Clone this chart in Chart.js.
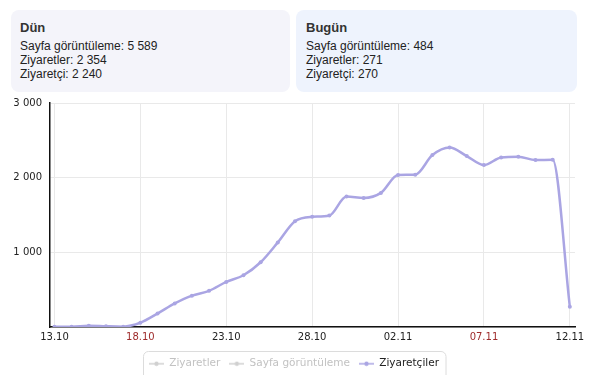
<!DOCTYPE html>
<html>
<head>
<meta charset="utf-8">
<script src="https://cdn.jsdelivr.net/npm/chart.js@4.4.1/dist/chart.umd.min.js"></script>
<style>
  html, body { margin: 0; padding: 0; width: 591px; height: 375px; overflow: hidden; background: #fff; }
  body { position: relative; font-family: "Liberation Sans", Arial, sans-serif; color: #222; }
  .panel { position: absolute; top: 10px; height: 82px; border-radius: 8px; box-sizing: border-box; padding: 10px 10px; }
  .panel h3 { margin: 0 0 3px 0; font-size: 13px; font-weight: bold; color: #333; line-height: 16px; }
  .panel div { font-size: 12px; line-height: 14px; }
  #dun { left: 11px; width: 279px; background: #f4f4fa; padding-left: 9px; }
  #bugun { left: 296px; width: 281px; background: #eef3fd; }
  #wrap { position: absolute; left: 0; top: 89px; width: 591px; height: 305px; }
</style>
</head>
<body>
<div class="panel" id="dun">
  <h3>Dün</h3>
  <div>Sayfa görüntüleme: 5 589</div>
  <div>Ziyaretler: 2 354</div>
  <div>Ziyaretçi: 2 240</div>
</div>
<div class="panel" id="bugun">
  <h3>Bugün</h3>
  <div>Sayfa görüntüleme: 484</div>
  <div>Ziyaretler: 271</div>
  <div>Ziyaretçi: 270</div>
</div>
<div id="wrap"><canvas id="visit_chart" width="591" height="305"></canvas></div>
<script>
var dates = ["13.10","14.10","15.10","16.10","17.10","18.10","19.10","20.10","21.10","22.10",
  "23.10","24.10","25.10","26.10","27.10","28.10","29.10","30.10","31.10","01.11",
  "02.11","03.11","04.11","05.11","06.11","07.11","08.11","09.11","10.11","11.11","12.11"];
var redTicks = ["18.10", "07.11"];

// ziyaretciler (visible line)
var visitors = [5, 5, 18, 10, 5, 57, 180, 315, 420, 484,
  604, 693, 867, 1133, 1417, 1476, 1493, 1747, 1729, 1796,
  2036, 2040, 2303, 2404, 2289, 2169, 2271, 2280, 2236, 2240, 270];
// hidden series: only yesterday / today are known (from the panels)
var visits = [];
visits[29] = 2354; visits[30] = 271;
var pageViews = [];
pageViews[29] = 5589; pageViews[30] = 484;

var yTicks = [1000, 2000, 3000];
var xTickIdx = [0, 5, 10, 15, 20, 25, 30];

var lineColor = "#aaa5e3";
var grayColor = "#c8c8cc";
var legendShift = 6.5;

function toPoints(arr){
  var out = [];
  for (var i = 0; i < dates.length; i++) {
    out.push({x: i, y: arr[i] === undefined ? null : arr[i]});
  }
  return out;
}

function swatch(color){
  var c = document.createElement("canvas");
  c.width = 15; c.height = 6;
  var ctx = c.getContext("2d");
  ctx.strokeStyle = color; ctx.lineWidth = 1.5;
  ctx.beginPath(); ctx.moveTo(0, 3); ctx.lineTo(15, 3); ctx.stroke();
  ctx.fillStyle = color;
  ctx.beginPath(); ctx.arc(7.5, 3, 2.2, 0, Math.PI*2); ctx.fill();
  return c;
}

function fmt(v){
  return String(v).replace(/\B(?=(\d{3})+(?!\d))/g, " ");
}

// move legend a bit right and draw the rounded frame round it
var legendBox = {
  id: "legendBox",
  afterLayout: function(chart){
    chart.legend.left += legendShift;
    chart.legend.right += legendShift;
  },
  afterDraw: function(chart){
    var items = chart.legend.legendHitBoxes;
    if (!items || !items.length) return;
    var last = items[items.length-1];
    var l = items[0].left + legendShift - 12.5, r = last.left + last.width + legendShift;
    var t = items[0].top - 8;
    var ctx = chart.ctx;
    ctx.save();
    ctx.strokeStyle = "#dcdcdc"; ctx.lineWidth = 1;
    ctx.beginPath();
    ctx.roundRect(Math.round(l) + 0.5, Math.round(t) + 0.5, r - l, 60, 5);
    ctx.stroke();
    ctx.restore();
  }
};

new Chart("visit_chart", {
  type: "line",
  data: {
    datasets: [{
      label: "Ziyaretler",
      data: toPoints(visits),
      hidden: true,
      borderColor: grayColor,
      backgroundColor: grayColor
    }, {
      label: "Sayfa görüntüleme",
      data: toPoints(pageViews),
      hidden: true,
      borderColor: grayColor,
      backgroundColor: grayColor
    }, {
      label: "Ziyaretçiler",
      data: toPoints(visitors),
      borderColor: lineColor,
      backgroundColor: lineColor,
      borderWidth: 2.5,
      pointRadius: 2,
      pointBorderWidth: 0,
      cubicInterpolationMode: "monotone"
    }]
  },
  plugins: [legendBox],
  options: {
    responsive: false,
    animation: false,
    layout: { padding: { left: 0, right: 16, top: 2, bottom: 15 } },
    plugins: {
      tooltip: { enabled: false },
      legend: {
        position: "bottom",
        labels: {
          usePointStyle: true,
          pointStyleWidth: 15,
          boxHeight: 6,
          padding: 9,
          font: { family: "DejaVu Sans", size: 10.5 },
          generateLabels: function(chart){
            return chart.data.datasets.map(function(ds, i){
              var vis = chart.isDatasetVisible(i);
              return {
                text: ds.label,
                fontColor: vis ? "#222" : "#c2c2c2",
                pointStyle: swatch(vis ? lineColor : "#d0d0d0"),
                hidden: false,
                datasetIndex: i,
                lineWidth: 0
              };
            });
          }
        }
      }
    },
    scales: {
      x: {
        type: "linear",
        min: -0.26,
        max: 30.3,
        afterBuildTicks: function(s){ s.ticks = xTickIdx.map(function(v){ return {value: v}; }); },
        afterFit: function(s){ s.height = 22.5; },
        grid: { color: "#e9e9e9", drawTicks: false },
        border: { color: "#111", width: 1.5 },
        ticks: {
          padding: 4,
          maxRotation: 0,
          autoSkip: false,
          font: { family: "DejaVu Sans", size: 10 },
          color: function(c){ return redTicks.indexOf(dates[c.tick.value]) >= 0 ? "#9e2b2b" : "#222"; },
          callback: function(v){ return dates[v]; }
        }
      },
      y: {
        min: 0,
        max: 3000,
        afterBuildTicks: function(s){ s.ticks = [0].concat(yTicks).map(function(v){ return {value: v}; }); },
        afterFit: function(s){ s.width = 50; },
        grid: { color: "#e9e9e9", drawTicks: false },
        border: { color: "#111", width: 1.5 },
        ticks: {
          padding: 8,
          font: { family: "DejaVu Sans", size: 10 },
          color: "#222",
          callback: function(v){ return v === 0 ? "" : fmt(v); }
        }
      }
    }
  }
});
</script>
</body>
</html>
